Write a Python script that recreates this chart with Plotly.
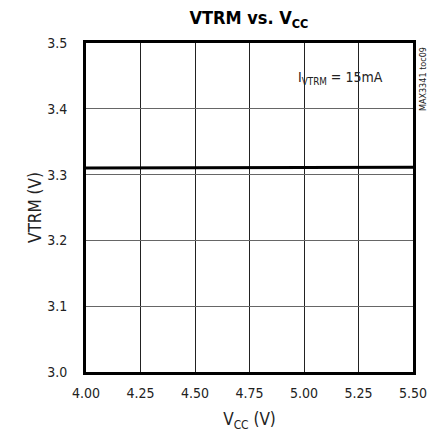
import plotly.graph_objects as go

vcc = [4.00, 4.25, 4.50, 4.75, 5.00, 5.25, 5.50]
vtrm = [3.310, 3.310, 3.311, 3.311, 3.311, 3.311, 3.311]
x_ticks = [4.00, 4.25, 4.50, 4.75, 5.00, 5.25, 5.50]
x_labels = ["4.00", "4.25", "4.50", "4.75", "5.00", "5.25", "5.50"]
y_ticks = [3.0, 3.1, 3.2, 3.3, 3.4, 3.5]
y_labels = ["3.0", "3.1", "3.2", "3.3", "3.4", "3.5"]

FONT = "DejaVu Sans Condensed, Liberation Sans Narrow, Liberation Sans, Arial, sans-serif"

fig = go.Figure()
fig.add_trace(go.Scatter(x=vcc, y=vtrm, mode="lines",
                         line=dict(color="black", width=3), showlegend=False))

fig.update_layout(
    width=436, height=433,
    margin=dict(l=86, r=23, t=43, b=61),
    paper_bgcolor="white", plot_bgcolor="white",
    font=dict(family=FONT, size=14, color="#222"),
    title=dict(text="<b>VTRM vs. V<sub>CC</sub></b>", x=0.571, xanchor="center",
               y=0.958, yanchor="middle", font=dict(size=18, color="black")),
    xaxis=dict(range=[4.0, 5.5], tickvals=x_ticks, ticktext=x_labels,
               showgrid=True, gridcolor="#222", gridwidth=1,
               showline=True, linecolor="black", linewidth=3, mirror=True,
               ticks="", zeroline=False, automargin=False, ticklabelstandoff=6,
               title=dict(text="V<sub>CC</sub> (V)", standoff=14)),
    yaxis=dict(range=[3.0, 3.5], tickvals=y_ticks, ticktext=y_labels,
               showgrid=True, gridcolor="#666", gridwidth=1,
               showline=True, linecolor="black", linewidth=3, mirror=True,
               ticks="", zeroline=False, ticklabelstandoff=13, automargin=False,
               title=dict(text="VTRM (V)", standoff=2)),
)

fig.add_annotation(text="I<sub>VTRM</sub> = 15mA", xref="paper", yref="paper",
                   x=0.777, y=0.894, xanchor="center", yanchor="middle",
                   showarrow=False, font=dict(size=14, color="#222"))
fig.add_annotation(text="MAX3341 toc09", xref="paper", yref="paper",
                   x=1.031, y=0.994, xanchor="center", yanchor="top", textangle=-90,
                   showarrow=False, font=dict(size=9, color="#222"))

fig.write_html("out.html", config={"displayModeBar": False},
               post_script="document.body.style.margin='0';document.body.style.overflow='hidden';")
